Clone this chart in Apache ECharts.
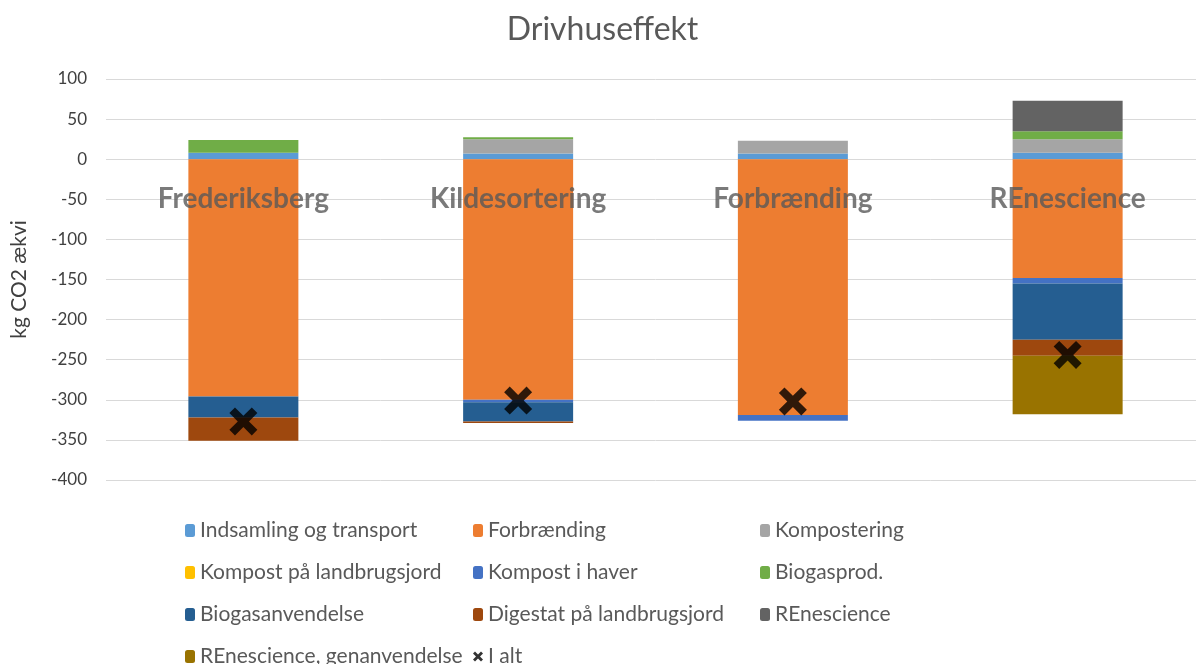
<!DOCTYPE html>
<html>
<head>
<meta charset="utf-8">
<script src="https://cdn.jsdelivr.net/npm/echarts@6/dist/echarts.min.js"></script>
<style>
  html, body { margin: 0; padding: 0; background: #fff; overflow: hidden; }
  #chart { width: 1205px; height: 664px; }
</style>
</head>
<body>
<div id="chart"></div>
<script>
// categories and series values (kg CO2 ækvi)
const categories = ['Frederiksberg', 'Kildesortering', 'Forbrænding', 'REnescience'];

const indsamling = [8, 7, 7, 8];
const forbraending = [-296, -300, -319, -148];
const kompostering = [0, 18, 16, 17];
const kompostLandbrug = [0, 0, 0, 0];
const kompostHaver = [0, -3, -7, -7];
const biogasprod = [16, 2.5, 0, 10];
const biogasanvendelse = [-26, -24, 0, -70];
const digestat = [-29, -2, 0, -20];
const renescience = [0, 0, 0, 38];
const renescienceGenanv = [0, 0, 0, -73];
const iAlt = [-327, -301, -302, -244];

// the category names sit on the zero line, as in the spreadsheet chart
const labelAnchor = [0, 0, 0, 0];

const yTicks = { min: -400, max: 100, interval: 50 };

const FONT = 'Lato, "Open Sans", sans-serif';
const X_PATH = 'path://M2,0 L5,3 L8,0 L10,2 L7,5 L10,8 L8,10 L5,7 L2,10 L0,8 L3,5 L0,2 Z';

const barSeries = [
    ['Indsamling og transport', indsamling, '#5B9BD5'],
    ['Forbrænding', forbraending, '#ED7D31'],
    ['Kompostering', kompostering, '#A5A5A5'],
    ['Kompost på landbrugsjord', kompostLandbrug, '#FFC000'],
    ['Kompost i haver', kompostHaver, '#4472C4'],
    ['Biogasprod.', biogasprod, '#70AD47'],
    ['Biogasanvendelse', biogasanvendelse, '#255E91'],
    ['Digestat på landbrugsjord', digestat, '#9E480E'],
    ['REnescience', renescience, '#636363'],
    ['REnescience, genanvendelse', renescienceGenanv, '#997300']
].map(([name, values, color]) => ({
    name: name,
    type: 'bar',
    stack: 'total',
    barWidth: 110,
    data: values,
    itemStyle: { color: color },
    emphasis: { disabled: true }
}));

const legendBase = {
    orient: 'vertical',
    itemWidth: 10,
    itemHeight: 13,
    itemGap: 21,
    top: 515,
    height: 200,
    textStyle: { fontFamily: FONT, fontSize: 21, color: '#595959', lineHeight: 21 },
    selectedMode: false
};

// chart is a little wider than the window: the plot runs off the right edge
const chart = echarts.init(document.getElementById('chart'));
chart.setOption({
    animation: false,
    title: {
        text: 'Drivhuseffekt',
        left: 'center',
        top: 9,
        textStyle: { fontFamily: FONT, fontSize: 32, fontWeight: 'normal', color: '#595959' }
    },
    legend: [
        Object.assign({}, legendBase, {
            left: 180,
            data: ['Indsamling og transport', 'Kompost på landbrugsjord', 'Biogasanvendelse', 'REnescience, genanvendelse']
        }),
        Object.assign({}, legendBase, {
            left: 468,
            data: ['Forbrænding', 'Kompost i haver', 'Digestat på landbrugsjord',
                { name: 'I alt', icon: X_PATH, itemStyle: { color: '#000' } }]
        }),
        Object.assign({}, legendBase, {
            left: 755,
            data: ['Kompostering', 'Biogasprod.', 'REnescience']
        })
    ],
    grid: { left: 106, right: 0, top: 79, bottom: 184 },
    xAxis: {
        type: 'category',
        data: categories,
        axisLine: { show: false },
        axisTick: { show: false },
        axisLabel: { show: false }
    },
    yAxis: {
        type: 'value',
        min: yTicks.min,
        max: yTicks.max,
        interval: yTicks.interval,
        name: 'kg CO2 ækvi',
        nameLocation: 'middle',
        nameRotate: 90,
        nameGap: 76,
        nameTextStyle: { fontFamily: FONT, fontSize: 21, color: '#404040' },
        axisLine: { show: false },
        axisTick: { show: false },
        axisLabel: { fontFamily: FONT, fontSize: 17, color: '#404040', margin: 19 },
        splitLine: { lineStyle: { color: '#D9D9D9', width: 1 } }
    },
    series: barSeries.concat([{
        name: 'I alt',
        type: 'scatter',
        data: iAlt,
        symbol: X_PATH,
        symbolSize: 28,
        itemStyle: { color: '#000' },
        z: 5
    }, {
        name: 'categoryLabels',
        type: 'scatter',
        data: labelAnchor,
        symbolSize: 0,
        silent: true,
        z: 6,
        label: {
            show: true,
            position: 'bottom',
            distance: 26,
            formatter: (p) => p.name,
            fontFamily: FONT,
            fontSize: 28,
            fontWeight: 'bold',
            color: '#595959'
        }
    }])
});
</script>
</body>
</html>
